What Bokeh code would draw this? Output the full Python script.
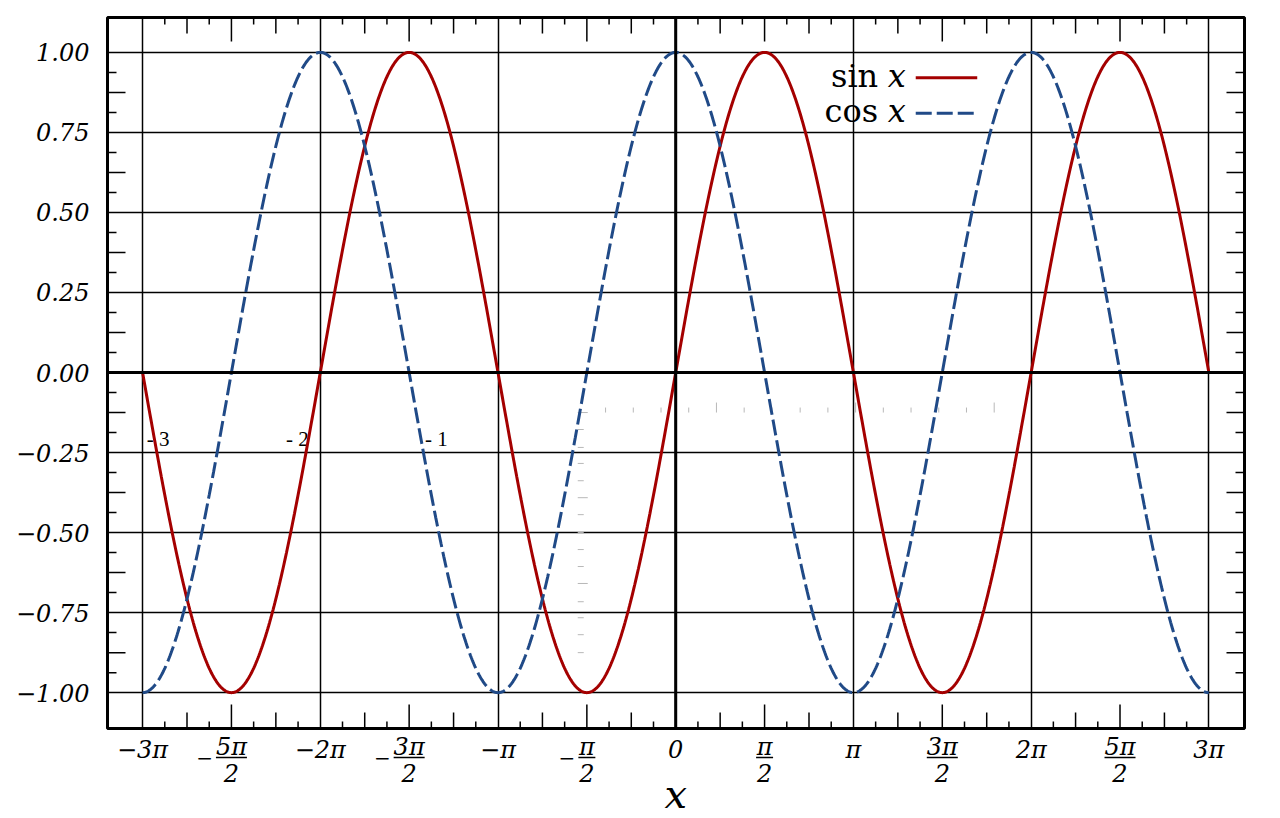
import numpy as np
from bokeh.plotting import figure
from bokeh.models import LinearAxis, FixedTicker, Grid, Range1d, Span, CustomJSTickFormatter
from bokeh.core.properties import value
from bokeh.embed import file_html
from bokeh.resources import INLINE

PI = np.pi

# the two curves over -3pi .. 3pi
x_vals = np.linspace(-3 * PI, 3 * PI, 1201)
sin_vals = np.sin(x_vals)
cos_vals = np.cos(x_vals)

# x axis text on the whole multiples of pi (positions in units of pi)
x_label_steps = [-3, -2, -1, 0, 1, 2, 3]
x_tick_labels = ["−3π", "−2π", "−π", "0", "π", "2π", "3π"]
# the half multiples are written as stacked fractions (positions in units of pi/2)
frac_steps = [-5, -3, -1, 1, 3, 5]
frac_signs = ["−", "−", "−", "", "", ""]
frac_nums = ["5π", "3π", "π", "π", "3π", "5π"]
frac_dens = ["2", "2", "2", "2", "2", "2"]

# y axis text every 0.25
y_label_vals = [-1.0, -0.75, -0.5, -0.25, 0.0, 0.25, 0.5, 0.75, 1.0]
y_tick_labels = ["−1.00", "−0.75", "−0.50", "−0.25", "0.00", "0.25", "0.50", "0.75", "1.00"]

legend_names = ["sin", "cos"]
legend_var = "x"
axis_title = "x"

# stray bits left over in the original drawing
stray_labels = ["- 3", "- 2", "- 1"]
stray_x = [-9.35, -6.89, -4.43]
stray_y = [-0.208, -0.208, -0.208]
ruler_row_x = [-1.24, -0.75, -0.26, 0.23, 0.72, 1.21, 1.70, 2.20, 2.69, 3.18,
               3.67, 4.16, 4.65, 5.14, 5.63]
ruler_row_long = [0, 0, 0, 0, 1, 0, 0, 0, 0, 1, 0, 0, 0, 0, 1]
ruler_col_y = [-0.125, -0.178, -0.234, -0.284, -0.338, -0.391, -0.444, -0.5,
               -0.553, -0.606, -0.659, -0.716, -0.766, -0.819, -0.875]
ruler_col_long = [1, 0, 0, 0, 0, 1, 0, 0, 0, 0, 1, 0, 0, 0, 0]

SIN_COLOR = "#a40000"
COS_COLOR = "#204a87"
SERIF = value("DejaVu Serif")

X_LO, X_HI = -3 * PI - 0.62, 3 * PI + 0.63
Y_LO, Y_HI = -1.112, 1.109
W, H = 1272, 818
BL, BR, BT, BB = 107, 28, 17, 90
FW, FH = W - BL - BR, H - BT - BB
dx = (X_HI - X_LO) / FW   # data units per pixel
dy = (Y_HI - Y_LO) / FH

p = figure(width=W, height=H, x_range=Range1d(X_LO, X_HI), y_range=Range1d(Y_LO, Y_HI),
           x_axis_type=None, y_axis_type=None, output_backend="svg", toolbar_location=None,
           min_border_left=BL, min_border_right=BR, min_border_top=BT, min_border_bottom=BB)
p.outline_line_color = "black"
p.outline_line_width = 3
p.background_fill_color = "white"
p.border_fill_color = "white"


def label_axis(ticks, labels, standoff):
    ax = LinearAxis(ticker=FixedTicker(ticks=ticks, minor_ticks=[]))
    ax.formatter = CustomJSTickFormatter(args=dict(labels=labels), code="return labels[index]")
    ax.axis_line_color = None
    ax.major_tick_in = 0
    ax.major_tick_out = 0
    ax.major_label_standoff = standoff
    ax.major_label_text_font = "DejaVu Serif"
    ax.major_label_text_font_style = "italic"
    ax.major_label_text_font_size = "24px"
    ax.major_label_text_color = "black"
    return ax


p.add_layout(label_axis([k * PI for k in x_label_steps], x_tick_labels, 7), "below")
p.add_layout(label_axis(y_label_vals, y_tick_labels, 18), "left")

p.add_layout(Grid(dimension=0, ticker=FixedTicker(ticks=[k * PI for k in x_label_steps]),
                  grid_line_color="black", grid_line_width=1.5))
p.add_layout(Grid(dimension=1, ticker=FixedTicker(ticks=y_label_vals),
                  grid_line_color="black", grid_line_width=1.5))
p.add_layout(Span(location=0, dimension="width", line_color="black", line_width=3))
p.add_layout(Span(location=0, dimension="height", line_color="black", line_width=3))

# inner tick marks on all four sides: three lengths along x, two along y
x_marks, x_lens = [], []
for step, n, length in [(PI / 8, 23, 7), (PI / 4, 11, 16), (PI / 2, 5, 24)]:
    for k in range(-n, n + 1, 2):
        x_marks.append(k * step)
        x_lens.append(length)
y_marks, y_lens = [], []
for step, n, length in [(1 / 16, 15, 9), (1 / 8, 7, 18)]:
    for k in range(-n, n + 1, 2):
        y_marks.append(k * step)
        y_lens.append(length)

p.segment(x0=x_marks * 2, x1=x_marks * 2,
          y0=[Y_LO] * len(x_marks) + [Y_HI] * len(x_marks),
          y1=[Y_LO + n * dy for n in x_lens] + [Y_HI - n * dy for n in x_lens],
          line_color="black", line_width=1.5)
p.segment(y0=y_marks * 2, y1=y_marks * 2,
          x0=[X_LO] * len(y_marks) + [X_HI] * len(y_marks),
          x1=[X_LO + n * dx for n in y_lens] + [X_HI - n * dx for n in y_lens],
          line_color="black", line_width=1.5)

# faint ruler marks
p.segment(x0=ruler_row_x, x1=ruler_row_x, y0=[-0.125] * len(ruler_row_x),
          y1=[-0.125 + (10 if lg else 5) * dy for lg in ruler_row_long],
          line_color="#b8b8b8", line_width=1)
p.segment(x0=[-1.732] * len(ruler_col_y), x1=[-1.732 + (10 if lg else 6) * dx for lg in ruler_col_long],
          y0=ruler_col_y, y1=ruler_col_y, line_color="#b8b8b8", line_width=1)
p.text(x=stray_x, y=stray_y, text=stray_labels, text_font=value("Liberation Serif"),
       text_font_size="21px", text_align="left", text_baseline="middle", text_color="black")

p.line(x_vals, sin_vals, line_color=SIN_COLOR, line_width=3)
p.line(x_vals, cos_vals, line_color=COS_COLOR, line_width=3, line_dash="16 5")

# legend: words first, line sample after
leg_x = 3.58
leg_y = [0.921, 0.81]
leg_text_y = [v + 2 * dy for v in leg_y]
p.text(x=[leg_x] * 2, y=leg_text_y, text=legend_names, text_font=SERIF,
       text_font_size="32px", text_align="right", text_baseline="middle", text_color="black")
p.text(x=[leg_x + 9.5 * dx] * 2, y=leg_text_y, text=[legend_var] * 2, text_font=SERIF,
       text_font_style="italic", text_font_size="32px", text_align="left", text_baseline="middle",
       text_color="black")
p.line([leg_x + 37.5 * dx, leg_x + 99 * dx], [leg_y[0]] * 2, line_color=SIN_COLOR, line_width=3)
p.line([leg_x + 37.5 * dx, leg_x + 99 * dx], [leg_y[1]] * 2, line_color=COS_COLOR, line_width=3,
       line_dash="16 5")

# stacked fractions under the half multiples of pi, drawn past the frame
fx = [k * PI / 2 for k in frac_steps]
half = [(8.5 if len(n) == 1 else 15.5) * dx for n in frac_nums]
txt = dict(text_font=SERIF, text_font_style="italic", text_color="black",
           text_baseline="middle", level="overlay")
p.text(x=fx, y=[Y_LO - 18.5 * dy] * len(fx), text=frac_nums, text_font_size="24px",
       text_align="center", **txt)
p.text(x=fx, y=[Y_LO - 44 * dy] * len(fx), text=frac_dens, text_font_size="24px",
       text_align="center", **txt)
p.segment(x0=[a - h for a, h in zip(fx, half)], x1=[a + h for a, h in zip(fx, half)],
          y0=[Y_LO - 29 * dy] * len(fx), y1=[Y_LO - 29 * dy] * len(fx),
          line_color="black", line_width=1.5, level="overlay")
neg = [i for i, s in enumerate(frac_signs) if s]
p.text(x=[fx[i] - half[i] - 3 * dx for i in neg], y=[Y_LO - 29 * dy] * len(neg),
       text=[frac_signs[i] for i in neg], text_font_size="20px", text_align="right", **txt)

# axis title, kept a little short of the bottom edge
p.text(x=[0], y=[Y_LO - 65 * dy], text=[axis_title], text_font_size="40px",
       text_align="center", text_line_height=1.0, **txt)

open("out.html", "w").write(file_html(p, INLINE))
